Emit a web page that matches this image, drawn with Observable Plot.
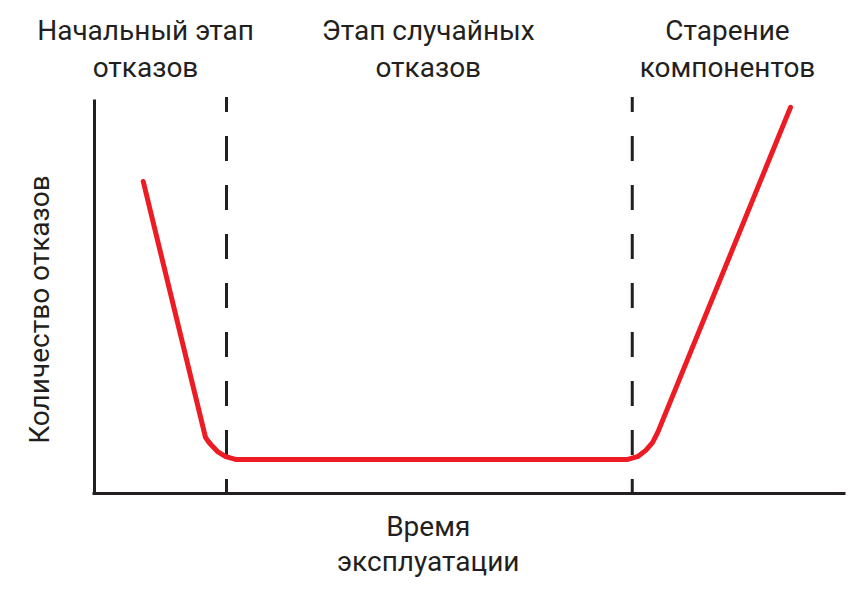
<!DOCTYPE html>
<html>
<head>
<meta charset="utf-8">
<script src="https://cdn.jsdelivr.net/npm/d3@7"></script>
<script src="https://cdn.jsdelivr.net/npm/@observablehq/plot@0.6"></script>
<style>
  html, body { margin: 0; padding: 0; background: #fff; }
</style>
</head>
<body>
<div id="chart"></div>
<script>
// Bathtub curve: failure count vs operating time (arbitrary units 0..100)
const curveTime     = [6.5, 14.8, 15.2, 15.7, 16.4, 17.5, 18.8, 71.1, 72.4, 73.5, 74.4, 75.1, 92.8];
const curveFailures = [79.6, 14.3, 13.2, 12.1, 10.7, 9.4, 8.7, 8.7, 9.4, 11.0, 13.0, 15.6, 98.5];

// Phase boundaries (dashed lines)
const phaseBoundaries = [17.6, 71.7];

// Phase labels and their centre positions along time axis
const phaseLabels = ["Начальный этап\nотказов", "Этап случайных\nотказов", "Старение\nкомпонентов"];
const phaseCenters = [6.8, 44.5, 84.4];

const xAxisLabel = "Время\nэксплуатации";
const yAxisLabel = "Количество отказов";

const curve = curveTime.map((t, i) => ({t, f: curveFailures[i]}));
const phases = phaseLabels.map((label, i) => ({label, x: phaseCenters[i]}));

const ink = "#231f20";
const red = "#ed1c24";

const plot = Plot.plot({
  width: 858,
  height: 589,
  marginLeft: 94,
  marginRight: 14,
  marginTop: 101,
  marginBottom: 96,
  style: {fontFamily: "Roboto, sans-serif", fontSize: "28px", color: ink, background: "#fff", overflow: "visible"},
  x: {domain: [0, 100], axis: null},
  y: {domain: [0, 100], axis: null},
  marks: [
    Plot.ruleX(phaseBoundaries, {y1: 0, y2: 101, stroke: ink, strokeWidth: 3, strokeDasharray: "25,24", strokeDashoffset: 11}),
    Plot.ruleX([0], {stroke: ink, strokeWidth: 3, strokeLinecap: "square"}),
    Plot.ruleY([0], {stroke: ink, strokeWidth: 3, strokeLinecap: "square"}),
    Plot.line(curve, {x: "t", y: "f", stroke: red, strokeWidth: 5, curve: "linear", strokeLinecap: "round", strokeLinejoin: "round"}),
    Plot.text(phases, {x: "x", text: "label", frameAnchor: "top", lineAnchor: "bottom", dy: -25, lineHeight: 1.3, fill: ink, fontSize: 28}),
    Plot.text([xAxisLabel], {x: phaseCenters[1], text: d => d, frameAnchor: "bottom", lineAnchor: "bottom", dy: 77, lineHeight: 1.25, fill: ink, fontSize: 28}),
    Plot.text([yAxisLabel], {text: d => d, frameAnchor: "left", textAnchor: "middle", rotate: -90, lineAnchor: "bottom", dx: -46, dy: 12, fill: ink, fontSize: 28})
  ]
});
document.getElementById("chart").appendChild(plot);
</script>
</body>
</html>
